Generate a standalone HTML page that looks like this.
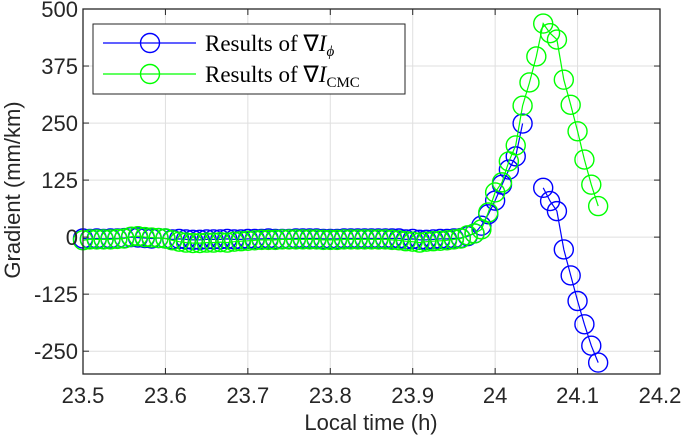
<!DOCTYPE html>
<html><head><meta charset="utf-8"><style>
body{margin:0;background:#fff;}
svg{display:block;font-family:"Liberation Sans",sans-serif;}
</style></head><body>
<svg id="chart" width="685" height="438" viewBox="0 0 685 438" xmlns="http://www.w3.org/2000/svg">
<g id="grid"></g>
<g id="series"></g>
<rect x="83" y="9" width="577" height="365" fill="none" stroke="#262626" stroke-width="1.3"/>
<g id="ticks"></g>
<text transform="translate(20,190) rotate(-90)" text-anchor="middle" font-size="22" fill="#262626">Gradient (mm/km)</text>
<text x="371" y="430" text-anchor="middle" font-size="22" fill="#262626">Local time (h)</text>
<g>
<rect x="93" y="24" width="312" height="70" fill="#fff" stroke="#262626" stroke-width="1"/>
<g>
<line x1="103" y1="43" x2="196" y2="43" stroke="#0000ff" stroke-width="1.2"/>
<circle cx="150" cy="43" r="9.5" fill="none" stroke="#0000ff" stroke-width="1.4"/>
<text x="205" y="51" font-family="'Liberation Serif',serif" font-size="23" fill="#000">Results of ∇<tspan font-style="italic">I</tspan><tspan font-style="italic" font-size="15" dy="5">ϕ</tspan></text>
</g>
<g>
<line x1="103" y1="74" x2="196" y2="74" stroke="#00ff00" stroke-width="1.2"/>
<circle cx="150" cy="74" r="9.5" fill="none" stroke="#00ff00" stroke-width="1.4"/>
<text x="205" y="82" font-family="'Liberation Serif',serif" font-size="23" fill="#000">Results of ∇<tspan font-style="italic">I</tspan><tspan font-size="15" dy="5">CMC</tspan></text>
</g>
</g>
</svg>
<script>
const xTicks=[23.5,23.6,23.7,23.8,23.9,24,24.1,24.2];
const xTickLabels=["23.5","23.6","23.7","23.8","23.9","24","24.1","24.2"];
const yTicks=[-250,-125,0,125,250,375,500];
const yTickLabels=["-250","-125","0","125","250","375","500"];
const tStart=23.5, tStep=0.008333;
const blueValues=[-3,-4,-3,-4,-3,-3,-2,0,-1,-2,-3,-2,-3,-5,-4,-5,-6,-6,-5,-5,-5,-4,-5,-5,-4,-4,-4,-3,-4,-4,-4,-3,-3,-3,-3,-4,-4,-4,-3,-3,-3,-3,-3,-3,-3,-3,-3,-5,-4,-6,-6,-5,-4,-4,-3,-2,2,8,25,50,80,115,148,177,249,null,null,108,79,57,-27,-84,-140,-191,-238,-275];
const greenValues=[-7,-5,-5,-5,-5,-4,-3,1,2,0,-1,-2,-3,-7,-10,-12,-13,-13,-12,-12,-11,-12,-10,-9,-8,-7,-6,-6,-6,-5,-5,-5,-5,-5,-5,-6,-6,-6,-5,-5,-5,-5,-5,-5,-5,-6,-7,-9,-10,-12,-10,-9,-8,-7,-5,-3,4,8,17,54,98,120,166,201,288,339,396,468,447,433,345,290,232,170,115,68];
const X=v=>83+(v-23.5)/0.7*577;
const Y=v=>9+(500-v)/800*365;
const NS="http://www.w3.org/2000/svg";
function mk(tag,attrs,parent){const e=document.createElementNS(NS,tag);for(const k in attrs)e.setAttribute(k,attrs[k]);parent.appendChild(e);return e;}
const grid=document.getElementById('grid'),ticks=document.getElementById('ticks'),series=document.getElementById('series');
xTicks.forEach((t,i)=>{
 const x=X(t);
 if(i>0&&i<xTicks.length-1){const g=mk('line',{x1:x,x2:x,y1:9,y2:374,stroke:'#dfdfdf','stroke-width':1},grid);
 
 }
 mk('line',{x1:x,x2:x,y1:374,y2:368,stroke:'#262626'},ticks);
 mk('line',{x1:x,x2:x,y1:9,y2:15,stroke:'#262626'},ticks);
 const tx=mk('text',{x:x,y:403,'text-anchor':'middle','font-size':22,fill:'#262626'},ticks);
 tx.textContent=xTickLabels[i];
 
 
});
yTicks.forEach((v,i)=>{
 const y=Y(v);
 if(v!==500){const g=mk('line',{x1:83,x2:660,y1:y,y2:y,stroke:'#dfdfdf','stroke-width':1},grid);
 
 }
 mk('line',{x1:83,x2:89,y1:y,y2:y,stroke:'#262626'},ticks);
 mk('line',{x1:660,x2:654,y1:y,y2:y,stroke:'#262626'},ticks);
 const tx=mk('text',{x:78,y:y+8,'text-anchor':'end','font-size':22,fill:'#262626'},ticks);
 tx.textContent=yTickLabels[i];
 
 
});
function draw(vals,color,name){
 const g=mk('g',{},series);
 
 
 let d='',pen=false;
 vals.forEach((v,i)=>{
  if(v===null){pen=false;return;}
  const x=X(tStart+i*tStep),y=Y(v);
  d+=(pen?'L':'M')+x.toFixed(1)+' '+y.toFixed(1);pen=true;
 });
 mk('path',{d:d,fill:'none',stroke:color,'stroke-width':1.2},g);
 vals.forEach((v,i)=>{
  if(v===null)return;
  const c=mk('circle',{cx:X(tStart+i*tStep),cy:Y(v),r:9.5,fill:'none',stroke:color,'stroke-width':1.4},g);
  
  
 });
}
draw(blueValues,'#0000ff','series-phi');
draw(greenValues,'#00ff00','series-cmc');
</script>
</body></html>
